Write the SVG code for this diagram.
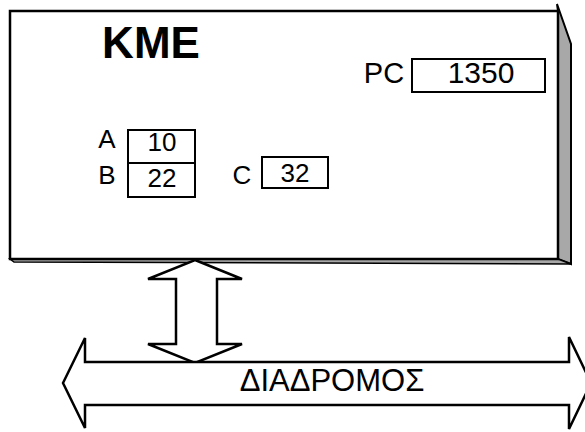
<svg xmlns="http://www.w3.org/2000/svg" width="585" height="432" viewBox="0 0 585 432">
<style>
.t{font-family:"Liberation Sans",Arial,sans-serif;fill:#000}
.box{fill:#fff;stroke:#000;stroke-width:2}
.ln{fill:#fff;stroke:#000;stroke-width:2.5;stroke-linejoin:miter}
</style>
<rect width="585" height="432" fill="#fff"/>
<g id="cpu">
<polygon points="557,4 571,44 571,264 558,259 558,11" fill="#a8a8a8" stroke="#000" stroke-width="2"/>
<polygon points="10,259 558,259 571,264 14,262" fill="#a8a8a8" stroke="#000" stroke-width="1.5"/>
<rect x="10" y="11" width="548" height="248" fill="#fff" stroke="#000" stroke-width="2.5"/>
<text class="t" x="151" y="58" font-size="44" font-weight="bold" text-anchor="middle">KME</text>
</g>
<g id="pc">
<text class="t" x="384" y="83" font-size="29" text-anchor="middle">PC</text>
<rect class="box" x="412" y="59" width="133" height="33"/>
<text class="t" x="481" y="83" font-size="30" text-anchor="middle">1350</text>
</g>
<g id="regA">
<text class="t" x="107" y="148" font-size="26" text-anchor="middle">A</text>
<rect class="box" x="128" y="130" width="67" height="33"/>
<text class="t" x="162" y="151" font-size="26" text-anchor="middle">10</text>
</g>
<g id="regB">
<text class="t" x="107" y="184" font-size="26" text-anchor="middle">B</text>
<rect class="box" x="128" y="163" width="67" height="34"/>
<text class="t" x="162" y="187" font-size="26" text-anchor="middle">22</text>
</g>
<g id="regC">
<text class="t" x="242" y="184" font-size="26" text-anchor="middle">C</text>
<rect class="box" x="262" y="157" width="66" height="31"/>
<text class="t" x="295" y="182" font-size="26" text-anchor="middle">32</text>
</g>
<g id="connectors">
<polygon class="ln" points="195,260 242,279 217,279 217,344 242,344 195,363 148,344 176,344 176,279 148,279"/>
</g>
<g id="bus">
<polygon class="ln" points="63,383 85,338 85,362 569,362 569,337 591,383 569,429 569,405 85,405 85,428"/>
<text class="t" x="332" y="391" font-size="31" text-anchor="middle">ΔΙΑΔΡΟΜΟΣ</text>
</g>
</svg>
